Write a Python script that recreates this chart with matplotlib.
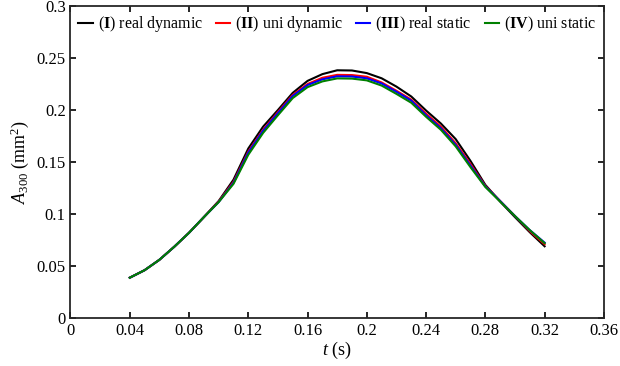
import matplotlib
matplotlib.use("Agg")
import matplotlib.pyplot as plt
from matplotlib.ticker import FuncFormatter

# time axis (s)
t = [0.04, 0.05, 0.06, 0.07, 0.08, 0.09, 0.10, 0.11, 0.12, 0.13, 0.14, 0.15,
     0.16, 0.17, 0.18, 0.19, 0.20, 0.21, 0.22, 0.23, 0.24, 0.25, 0.26, 0.27,
     0.28, 0.29, 0.30, 0.31, 0.32]

# A_300 (mm^2) for each case
real_dynamic = [0.0388, 0.046, 0.056, 0.0685, 0.082, 0.097, 0.1125, 0.133, 0.163, 0.184,
                0.200, 0.2165, 0.228, 0.2345, 0.2382, 0.2380, 0.2355, 0.2305, 0.2225, 0.213,
                0.1995, 0.187, 0.172, 0.151, 0.128, 0.112, 0.097, 0.0825, 0.069]
uni_dynamic = [0.0388, 0.046, 0.056, 0.0685, 0.082, 0.097, 0.112, 0.131, 0.160, 0.181,
               0.198, 0.2145, 0.225, 0.231, 0.2338, 0.2336, 0.232, 0.2265, 0.2185, 0.210,
               0.1965, 0.184, 0.168, 0.148, 0.127, 0.1125, 0.098, 0.0835, 0.071]
real_static = [0.0388, 0.046, 0.056, 0.0685, 0.082, 0.097, 0.1115, 0.130, 0.159, 0.180,
               0.197, 0.2135, 0.224, 0.2295, 0.2324, 0.2322, 0.2305, 0.2255, 0.2175, 0.209,
               0.195, 0.1825, 0.1665, 0.1465, 0.1265, 0.1125, 0.098, 0.0845, 0.0725]
uni_static = [0.0388, 0.046, 0.056, 0.0685, 0.082, 0.097, 0.1115, 0.129, 0.157, 0.178,
              0.195, 0.2115, 0.222, 0.2275, 0.2304, 0.2302, 0.2285, 0.2235, 0.2155, 0.207,
              0.1935, 0.181, 0.165, 0.145, 0.126, 0.112, 0.098, 0.0845, 0.072]

labels = [r'($\mathbf{I}$) real dynamic', r'($\mathbf{II}$) uni dynamic',
          r'($\mathbf{III}$) real static', r'($\mathbf{IV}$) uni static']
colors = ['black', '#ff0000', '#0000ff', '#008000']

plt.rcParams['font.family'] = 'Liberation Serif'
plt.rcParams['mathtext.fontset'] = 'custom'
plt.rcParams['mathtext.rm'] = 'Liberation Serif'
plt.rcParams['mathtext.it'] = 'Liberation Serif:italic'
plt.rcParams['mathtext.bf'] = 'Liberation Serif:bold'

fig = plt.figure(figsize=(6.2, 3.66), dpi=100)
ax = fig.add_axes([0.1137, 0.131, 0.974 - 0.1137, 0.9836 - 0.131])

for series, c, lab in zip([real_dynamic, uni_dynamic, real_static, uni_static], colors, labels):
    ax.plot(t, series, color=c, lw=1.5, label=lab)

ax.set_xlim(0, 0.36)
ax.set_ylim(0, 0.3)
ax.set_xticks([i * 0.04 for i in range(10)])
ax.set_yticks([i * 0.05 for i in range(7)])
fmt = FuncFormatter(lambda v, p: f'{round(v, 4):g}')
ax.xaxis.set_major_formatter(fmt)
ax.yaxis.set_major_formatter(fmt)
ax.tick_params(direction='in', top=True, right=True, length=4, width=1.2, labelsize=12)
for s in ax.spines.values():
    s.set_linewidth(1.3)
    s.set_color('#262626')

ax.set_xlabel(r'$t$ (s)', fontsize=13, labelpad=1)
ax.set_ylabel(r'$A_{300}$ (mm$^2$)', fontsize=13, labelpad=4)

ax.legend(loc='upper center', ncol=4, frameon=False, fontsize=11.5,
          handlelength=0.9, handletextpad=0.3, columnspacing=0.8,
          bbox_to_anchor=(0.5, 1.02))

fig.savefig('out.png', dpi=100)
